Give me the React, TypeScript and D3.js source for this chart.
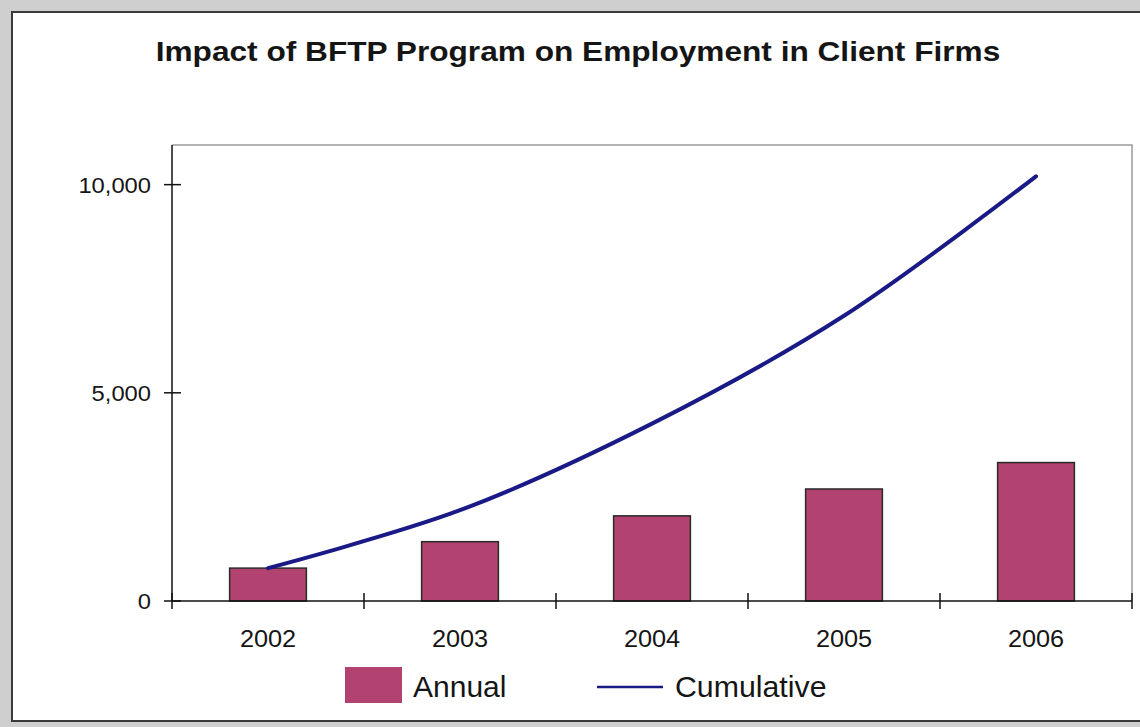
import React from "react";
import * as d3 from "d3";

const years = ["2002", "2003", "2004", "2005", "2006"];
const annual = [790, 1425, 2045, 2690, 3325];
const cumulative = [790, 2180, 4260, 6850, 10200];
const yTicks = [0, 5000, 10000];
const title = "Impact of BFTP Program on Employment in Client Firms";
const seriesNames = ["Annual", "Cumulative"];

const W = 1140;
const H = 727;
const left = 172;
const right = 1132;
const top = 143;
const bottom = 601;

function SText(props: {
  x: number;
  y: number;
  sx: number;
  size: number;
  anchor?: string;
  weight?: string;
  dy?: string;
  children: React.ReactNode;
}) {
  return (
    <text
      transform={`translate(${props.x},${props.y}) scale(${props.sx},1)`}
      textAnchor={props.anchor || "start"}
      fontSize={props.size}
      fontWeight={props.weight || "normal"}
      dy={props.dy}
      fill="#151515"
    >
      {props.children}
    </text>
  );
}

export default function App() {
  const x = d3.scaleBand<string>().domain(years).range([left, right]).paddingInner(0).paddingOuter(0);
  const y = d3.scaleLinear().domain([0, 11000]).range([bottom, top]);
  const bw = x.bandwidth() * 0.4;
  const line = d3
    .line<number>()
    .x((_, i) => (x(years[i]) as number) + x.bandwidth() / 2)
    .y((d) => y(d))
    .curve(d3.curveCatmullRom.alpha(0.5));
  const font = "'Liberation Sans', Arial, sans-serif";
  const boundaries = d3.range(years.length + 1).map((i) => left + i * x.bandwidth());
  const barColor = "#b2426f";
  const lineColor = "#1a1a86";

  return (
    <svg
      width={W}
      height={H}
      style={{ position: "absolute", left: 0, top: 0, display: "block" }}
      fontFamily={font}
    >
      <rect x={0} y={0} width={W} height={H} fill="#cfcfcf" />
      <rect x={12} y={12} width={W + 20} height={H - 6 - 12} fill="#ffffff" stroke="#3a3a3a" strokeWidth={2} />
      <SText x={578} y={61} sx={1.13} size={28} anchor="middle" weight="bold">
        {title}
      </SText>
      {/* plot frame top/right */}
      <path d={`M${left},${top + 2}H${right}V${bottom}`} fill="none" stroke="#9a9a9a" strokeWidth={1.5} />
      {/* bars */}
      {annual.map((v, i) => (
        <rect
          key={years[i]}
          x={(x(years[i]) as number) + (x.bandwidth() - bw) / 2}
          y={y(v)}
          width={bw}
          height={y(0) - y(v)}
          fill={barColor}
          stroke="#2a2a2a"
          strokeWidth={1.5}
        />
      ))}
      {/* axes */}
      <line x1={left} y1={top + 2} x2={left} y2={bottom} stroke="#111" strokeWidth={1.5} />
      <line x1={left} y1={bottom} x2={right} y2={bottom} stroke="#111" strokeWidth={1.5} />
      {yTicks.map((t) => (
        <g key={t}>
          <line x1={left - 8} x2={left + 9} y1={y(t)} y2={y(t)} stroke="#111" strokeWidth={1.5} />
          <SText x={151} y={y(t)} sx={1.08} size={22} anchor="end" dy="0.36em">
            {d3.format(",")(t)}
          </SText>
        </g>
      ))}
      {boundaries.map((bx, i) => (
        <line key={i} x1={bx} x2={bx} y1={bottom - 8} y2={bottom + 8} stroke="#111" strokeWidth={1.5} />
      ))}
      {years.map((yr) => (
        <SText key={yr} x={(x(yr) as number) + x.bandwidth() / 2} y={647} sx={1.1} size={23} anchor="middle">
          {yr}
        </SText>
      ))}
      {/* cumulative line */}
      <path d={line(cumulative) || ""} fill="none" stroke={lineColor} strokeWidth={4} strokeLinecap="round" />
      {/* legend */}
      <rect x={345} y={667} width={57} height={36} fill={barColor} />
      <SText x={413} y={697} sx={1} size={30}>
        {seriesNames[0]}
      </SText>
      <line x1={597} x2={663} y1={687} y2={687} stroke={lineColor} strokeWidth={2.5} />
      <SText x={675} y={697} sx={1.01} size={30}>
        {seriesNames[1]}
      </SText>
    </svg>
  );
}
